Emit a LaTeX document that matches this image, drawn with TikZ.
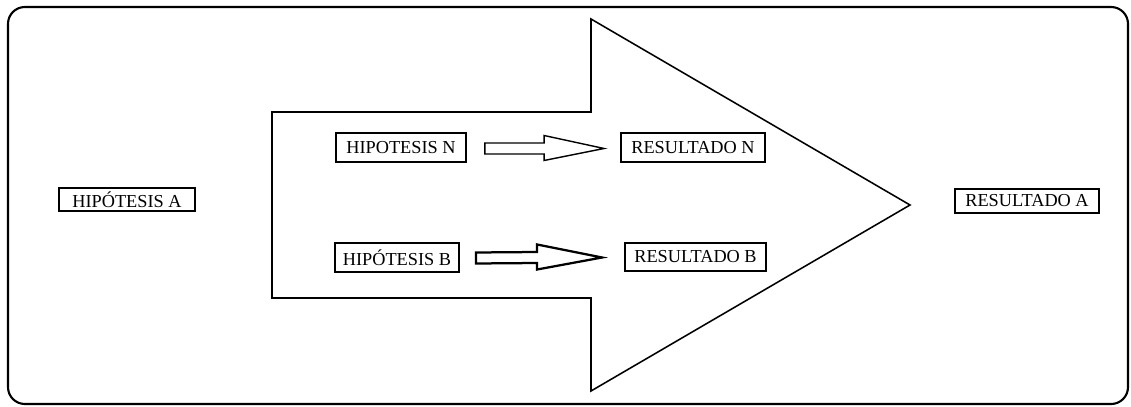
\documentclass[tikz,border=0pt]{standalone}
\usepackage{fontspec}
\setmainfont{Liberation Serif}
\usetikzlibrary{calc}
\tikzset{
  caja/.style={draw,line width=1.3pt,inner sep=0pt,minimum height=0.725cm,font=\fontsize{13}{15}\selectfont},
  flecha/.style={draw,line width=1pt,line join=miter},
}
\begin{document}
\begin{tikzpicture}[x=0.025cm,y=-0.025cm]
\useasboundingbox (0,0) rectangle (1131,407);
% marco
\draw[line width=1.5pt,rounded corners=12] (8,7) rectangle (1128,404);
% flecha grande
\draw[line width=1.1pt,line join=miter] (272,112) -- (591,112) -- (591,19) -- (910,205)
   -- (591,391) -- (591,298) -- (272,298) -- cycle;
% cajas
\node[caja,minimum width=3.4cm,minimum height=0.575cm] (ha) at (127,199.5) {HIPÓTESIS A};
\node[caja,minimum width=3.25cm] (hn) at (401,147.5) {HIPOTESIS N};
\node[caja,minimum width=3.1cm] (hb) at (397,257.5) {HIPÓTESIS B};
\node[caja,minimum width=3.6cm] (rn) at (693,147.5) {RESULTADO N};
\node[caja,minimum width=3.525cm,minimum height=0.7cm] (rb) at (695.5,257) {RESULTADO B};
\node[caja,minimum width=3.6cm,minimum height=0.6cm] (ra) at (1027,201) {RESULTADO A};
% flechas chicas
\coordinate (t1) at ($(hn.east)+(18,1)$);
\coordinate (p1) at ($(rn.west)+(-16,1)$);
\draw[flecha] ($(t1)+(0,-5.5)$) -- ($(p1)+(-60,-5.5)$) -- ($(p1)+(-60,-13)$) -- (p1)
   -- ($(p1)+(-60,12)$) -- ($(p1)+(-60,5.5)$) -- ($(t1)+(0,5.5)$) -- cycle;
\coordinate (t2) at ($(hb.east)+(16,0.5)$);
\coordinate (p2) at ($(rb.west)+(-22,0.5)$);
\draw[flecha,line width=1.6pt] ($(t2)+(0,-5.5)$) -- ($(p2)+(-65,-5.5)$) -- ($(p2)+(-65,-13)$) -- (p2)
   -- ($(p2)+(-65,12)$) -- ($(p2)+(-65,5.5)$) -- ($(t2)+(0,5.5)$) -- cycle;
\end{tikzpicture}
\end{document}
